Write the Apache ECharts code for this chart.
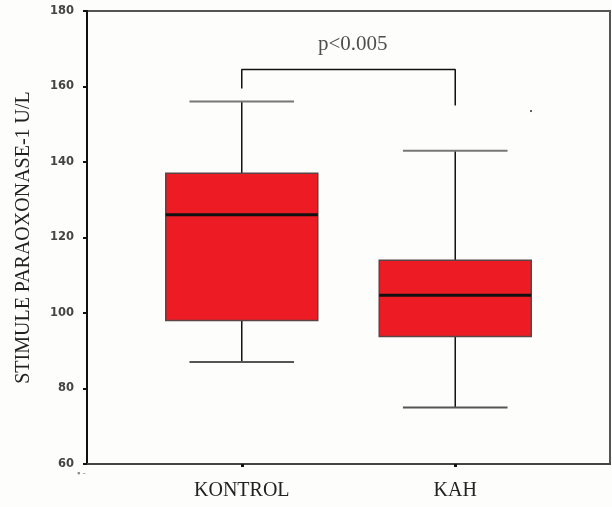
<!DOCTYPE html>
<html>
<head>
<meta charset="utf-8">
<script src="https://cdn.jsdelivr.net/npm/echarts@6/dist/echarts.min.js"></script>
<style>
html,body{margin:0;padding:0;background:#fdfdfb;}
#chart{width:612px;height:507px;}
</style>
</head>
<body>
<div id="chart"></div>
<script>
// Data
var categories = ['KONTROL', 'KAH'];
var whiskerLow = [87, 75];
var q1 = [98, 93.8];
var median = [126, 104.7];
var q3 = [137, 114];
var whiskerHigh = [156, 143];
var yTicks = [60, 80, 100, 120, 140, 160, 180];
var bracketLegs = [159.5, 155];   // bottom ends of bracket legs
var bracketTop = 164.5;
var pLabel = 'p<0.005';
var strayPoint = [[2.355, 153.5]];
var yTitle = 'STIMULE PARAOXONASE-1 U/L';

var boxData = categories.map(function (c, i) {
  return [i + 1, whiskerLow[i], q1[i], median[i], q3[i], whiskerHigh[i]];
});
var bracketData = [
  [1, bracketLegs[0]], [1, bracketTop], [2, bracketTop], [2, bracketLegs[1]]
];

var chart = echarts.init(document.getElementById('chart'));
var serif = '"Liberation Serif", "DejaVu Serif", serif';

chart.setOption({
  backgroundColor: '#fdfdfb',
  animation: false,
  grid: {
    left: 87, right: 2, top: 11, bottom: 43,
    show: true, borderColor: '#555', borderWidth: 2, backgroundColor: 'transparent'
  },
  xAxis: {
    type: 'value', min: 0.275, max: 2.725,
    splitLine: { show: false },
    axisLine: { show: true, lineStyle: { color: '#444', width: 2 } },
    axisTick: { show: true, customValues: [1, 2], length: 3, lineStyle: { color: '#111', width: 3 } },
    axisLabel: {
      customValues: [1, 2],
      formatter: function (v) { return categories[Math.round(v) - 1] || ''; },
      fontFamily: serif, fontSize: 20, color: '#222', margin: 17
    }
  },
  yAxis: {
    type: 'value', min: yTicks[0], max: yTicks[yTicks.length - 1], interval: 20,
    name: yTitle, nameLocation: 'middle', nameGap: 53,
    nameTextStyle: { fontFamily: serif, fontSize: 20, color: '#222' },
    splitLine: { show: false },
    axisLine: { show: true, lineStyle: { color: '#111', width: 2 } },
    axisTick: { show: true, length: 4, lineStyle: { color: '#111', width: 2 } },
    axisLabel: { fontFamily: '"DejaVu Sans", sans-serif', fontSize: 11.5, fontWeight: 'bold', color: '#444', margin: 13 }
  },
  series: [
    {
      type: 'custom',
      data: boxData,
      renderItem: function (params, api) {
        var x = api.value(0);
        var pLow = api.coord([x, api.value(1)]);
        var pQ1 = api.coord([x, api.value(2)]);
        var pMed = api.coord([x, api.value(3)]);
        var pQ3 = api.coord([x, api.value(4)]);
        var pHigh = api.coord([x, api.value(5)]);
        var boxW = api.size([0.712, 0])[0];
        var capW = api.size([0.49, 0])[0];
        var cx = pMed[0];
        return {
          type: 'group',
          children: [
            { type: 'line', shape: { x1: cx, y1: pHigh[1], x2: cx, y2: pQ3[1] }, style: { stroke: '#111', lineWidth: 1.5 } },
            { type: 'line', shape: { x1: cx, y1: pQ1[1], x2: cx, y2: pLow[1] }, style: { stroke: '#111', lineWidth: 1.5 } },
            { type: 'line', shape: { x1: cx - capW / 2, y1: pHigh[1], x2: cx + capW / 2, y2: pHigh[1] }, style: { stroke: '#777', lineWidth: 2 } },
            { type: 'line', shape: { x1: cx - capW / 2, y1: pLow[1], x2: cx + capW / 2, y2: pLow[1] }, style: { stroke: '#555', lineWidth: 2 } },
            { type: 'rect', shape: { x: cx - boxW / 2, y: pQ3[1], width: boxW, height: pQ1[1] - pQ3[1] }, style: { fill: '#ED1C24', stroke: '#5a4444', lineWidth: 1.5 } },
            { type: 'line', shape: { x1: cx - boxW / 2, y1: pMed[1], x2: cx + boxW / 2, y2: pMed[1] }, style: { stroke: '#111', lineWidth: 3 } }
          ]
        };
      }
    },
    {
      type: 'line',
      data: bracketData,
      symbol: 'none',
      lineStyle: { color: '#111', width: 1.5 },
      silent: true
    },
    {
      type: 'scatter',
      data: [[1.52, 171]],
      symbolSize: 0,
      label: { show: true, formatter: pLabel, position: 'inside', fontFamily: serif, fontSize: 21, color: '#222' },
      silent: true
    },
    {
      type: 'scatter',
      data: strayPoint,
      symbol: 'rect',
      symbolSize: 2,
      itemStyle: { color: '#333' },
      silent: true
    }
  ],
  graphic: [
    { type: 'text', left: 77, top: 469, style: { text: '▪ -', fontSize: 9, fill: '#888' } }
  ]
});
</script>
</body>
</html>
